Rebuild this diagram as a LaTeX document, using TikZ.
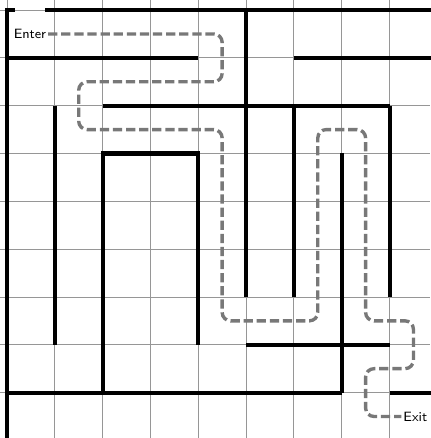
\documentclass[tikz,border=0pt]{standalone}
\usepackage{tikz}
\usepackage{xcolor}
\usetikzlibrary{positioning}
\definecolor{wallcol}{RGB}{0,0,0}
\definecolor{gridcol}{RGB}{150,150,150}
\definecolor{routecol}{RGB}{120,120,120}

\begin{document}
\begin{tikzpicture}[
  gridline/.style={draw=gridcol, line width=0.5pt},
  wall/.style={draw=wallcol, line width=2.4pt, line join=miter},
  route/.style={draw=routecol, line width=2pt, dash pattern=on 5.5pt off 2.3pt, rounded corners=5pt},
  tag/.style={font=\footnotesize\sffamily, inner sep=1pt}
]
\useasboundingbox (-0.146,0.21) rectangle (8.85,-8.95);

% Grid
\draw[gridline] (-0.146,0.21) grid (8.85,-8.95);

% Outer walls
\draw[wall] (0.17,0) -- (0,0) -- (0,-9.2);
\draw[wall] (0.8,0) -- (9.2,0);

% Inner walls
\draw[wall] (0,-1) -- (4,-1);
\draw[wall] (6,-1) -- (9.2,-1);
\draw[wall] (5,0) -- (5,-6);
\draw[wall] (2,-2) -- (8,-2);
\draw[wall] (6,-2) -- (6,-6);
\draw[wall] (8,-2) -- (8,-6);
\draw[wall] (7,-3) -- (7,-8);
\draw[wall] (1,-2) -- (1,-7);
\draw[wall] (2,-8) -- (2,-3) -- (4,-3) -- (4,-7);
\draw[wall] (5,-7) -- (8,-7);
\draw[wall] (0,-8) -- (7,-8);
\draw[wall] (8,-8) -- (9.2,-8);

% Labels
\node[tag] (enter) at (0.48,-0.5) {Enter};
\node[tag] (exit) at (8.54,-8.5) {Exit};

% Route through the maze
\draw[route] (enter.east) -- (4.5,-0.5) -- (4.5,-1.5) -- (1.5,-1.5) -- (1.5,-2.5)
  -- (4.5,-2.5) -- (4.5,-6.5) -- (6.5,-6.5) -- (6.5,-2.5) -- (7.5,-2.5)
  -- (7.5,-6.5) -- (8.5,-6.5) -- (8.5,-7.5) -- (7.5,-7.5) -- (7.5,-8.5) -- (exit.west);
\end{tikzpicture}
\end{document}
